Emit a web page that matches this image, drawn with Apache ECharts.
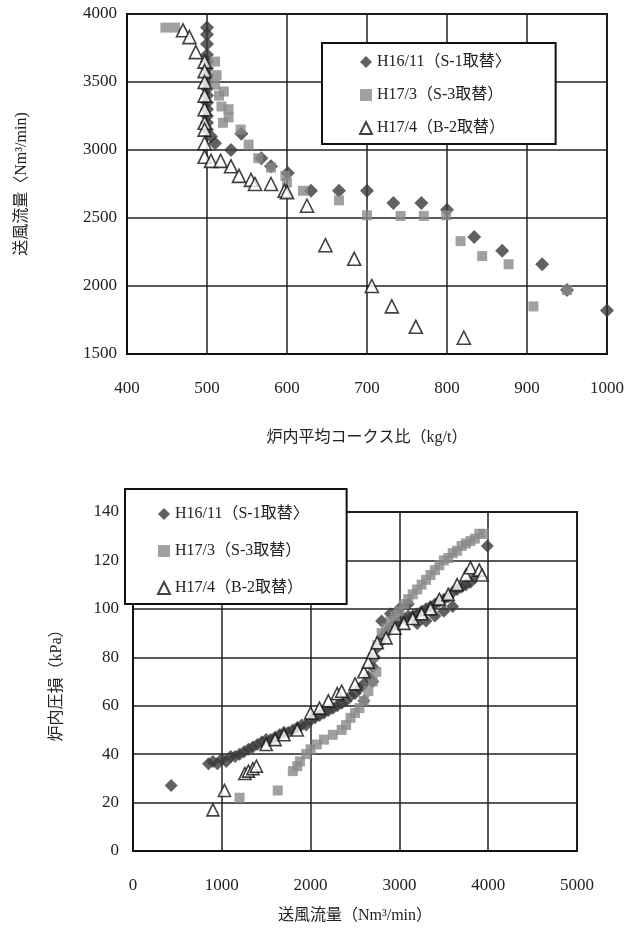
<!DOCTYPE html>
<html lang="ja">
<head>
    <meta charset="UTF-8">
    <title>送風流量</title>
    <script src="https://cdn.jsdelivr.net/npm/echarts@6/dist/echarts.min.js"></script>
    <style>
        body{margin:0;background:#fff;}
    </style>
</head>
<body>
<div id="chart" style="width:627px;height:936px;"></div>
<script>
    // 上の図: 炉内平均コークス比 vs 送風流量
    var cokeS1 = [[500,3900],[500,3850],[500,3780],[500,3700],[500,3650],[500,3600],[500,3550],[500,3500],[500,3450],
        [500,3400],[500,3350],[500,3300],[500,3250],[500,3200],[500,3150],[505,3100],[510,3050],[543,3120],[530,3000],
        [568,2940],[580,2880],[601,2830],[630,2700],[665,2700],[700,2700],[733,2610],[768,2610],[800,2560],[834,2360],
        [869,2260],[919,2160],[950,1970],[1000,1820]];
    var cokeS3 = [[448,3900],[460,3900],[510,3650],[512,3550],[510,3480],[515,3400],[521,3430],[518,3320],[527,3300],
        [527,3240],[520,3200],[542,3150],[552,3040],[564,2940],[580,2870],[598,2810],[600,2760],[620,2700],[665,2630],
        [700,2520],[742,2515],[771,2515],[799,2520],[817,2330],[844,2220],[877,2160],[908,1850],[950,1970]];
    var cokeB2 = [[470,3880],[478,3830],[486,3720],[497,3650],[497,3580],[497,3500],[497,3400],[497,3300],[497,3200],
        [497,3150],[497,3050],[497,2950],[505,2920],[517,2920],[530,2880],[540,2810],[555,2780],[560,2750],[580,2750],
        [597,2700],[600,2690],[625,2590],[648,2300],[684,2200],[706,2000],[731,1850],[761,1700],[821,1620]];

    // 下の図: 送風流量 vs 炉内圧損
    var flowS1 = [[430,27],[850,36],[900,37],[950,36],[1000,38],[1050,37],[1100,39],[1150,39],[1200,40],[1250,41],
        [1300,42],[1350,43],[1400,44],[1450,45],[1500,46],[1550,46],[1600,47],[1650,48],[1700,49],[1750,49],[1800,50],
        [1850,51],[1900,52],[1950,52],[2000,54],[2050,55],[2100,56],[2150,57],[2200,58],[2250,59],[2300,60],[2350,61],
        [2400,62],[2450,64],[2500,65],[2550,67],[2600,69],[2600,62],[2650,72],[2700,76],[2700,70],[2720,80],[2750,84],
        [2780,86],[2800,88],[2800,95],[2850,90],[2900,92],[2900,98],[2950,94],[3000,95],[3000,100],[3050,96],[3100,97],
        [3100,102],[3150,97],[3200,98],[3200,94],[3250,99],[3300,100],[3300,95],[3350,101],[3400,102],[3400,97],
        [3450,103],[3500,104],[3500,99],[3550,105],[3600,107],[3600,101],[3650,108],[3700,109],[3750,110],[3800,111],
        [3850,113],[3990,126]];
    var flowS3 = [[1200,22],[1630,25],[1800,33],[1850,35],[1880,37],[1950,40],[2000,42],[2070,44],[2150,46],[2250,48],
        [2350,50],[2400,52],[2450,55],[2500,57],[2550,59],[2600,62],[2650,66],[2700,70],[2740,74],[2700,80],[2750,85],
        [2800,90],[2850,92],[2900,95],[2950,97],[3000,99],[3050,102],[3100,104],[3150,106],[3200,108],[3250,110],
        [3300,112],[3350,114],[3400,116],[3450,118],[3500,120],[3550,121],[3600,123],[3650,124],[3700,126],[3750,127],
        [3800,128],[3850,129],[3900,131],[3950,131]];
    var flowB2 = [[900,17],[1030,25],[1260,32],[1300,33],[1350,34],[1390,35],[1500,44],[1600,46],[1700,48],[1850,50],
        [2000,57],[2100,59],[2200,62],[2300,65],[2350,66],[2500,69],[2600,74],[2650,78],[2700,82],[2750,86],[2850,88],
        [2950,92],[3050,94],[3150,96],[3250,98],[3350,100],[3450,104],[3550,106],[3650,110],[3750,114],[3800,117],
        [3900,116],[3930,114]];

    var names = ['H16/11（S-1取替〉', 'H17/3（S-3取替）', 'H17/4（B-2取替）'];

    var font = "'Liberation Serif', 'DejaVu Serif', 'Noto Sans CJK JP', serif";
    var txt = {fontFamily: font, fontSize: 16, color: '#222'};

    function axis(gridIndex, min, max, interval, margin, name, nameGap) {
        return {
            type: 'value', gridIndex: gridIndex, min: min, max: max, interval: interval,
            name: name, nameLocation: 'middle', nameGap: nameGap,
            nameTextStyle: {fontFamily: font, fontSize: 16, color: '#222'},
            axisLine: {show: true, lineStyle: {color: '#111', width: 2}},
            axisTick: {show: false},
            axisLabel: {margin: margin, fontFamily: font, fontSize: 17, color: '#222',
                formatter: function (v) { return String(v); }},
            splitLine: {show: true, lineStyle: {color: '#222', width: 1.5}}
        };
    }

    function scatter(name, data, idx, kind, small) {
        var s = {name: name, type: 'scatter', data: data, xAxisIndex: idx, yAxisIndex: idx};
        if (kind == 0) {
            s.symbol = 'diamond'; s.symbolSize = small ? 13 : 14;
            s.itemStyle = {color: '#3a3a3a'};
        } else if (kind == 1) {
            s.symbol = 'rect'; s.symbolSize = 10;
            s.itemStyle = {color: '#8a8a8a'};
        } else {
            s.symbol = 'triangle'; s.symbolSize = small ? 12 : 13;
            s.itemStyle = {color: '#fff', borderColor: '#111', borderWidth: 1.6};
        }
        return s;
    }

    function legend(left, top, padding, gap) {
        return {
            left: left, top: top, orient: 'vertical', padding: padding, itemGap: gap,
            itemWidth: 12, itemHeight: 12,
            backgroundColor: '#fff', borderColor: '#111', borderWidth: 2,
            textStyle: txt, data: names, selectedMode: false, z: 10
        };
    }

    var mychart = echarts.init(document.getElementById('chart'));
    var option = {
        animation: false,
        backgroundColor: '#fff',
        legend: [
            legend(322, 43, [11, 45, 8, 37], 17),
            legend(125, 489, [17, 38, 8, 32], 21)
        ],
        grid: [
            {left: 127, top: 14, width: 480, height: 340, show: true, borderColor: '#111', borderWidth: 2},
            {left: 133, top: 512, width: 444, height: 339, show: true, borderColor: '#111', borderWidth: 2}
        ],
        xAxis: [
            axis(0, 400, 1000, 100, 26, '炉内平均コークス比（kg/t）', 76),
            axis(1, 0, 5000, 1000, 26, '送風流量（Nm³/min）', 57)
        ],
        yAxis: [
            axis(0, 1500, 4000, 500, 10, '送風流量〈Nm³/min)', 97),
            axis(1, 0, 140, 20, 14, '炉内圧損（kPa）', 68)
        ],
        series: [
            scatter(names[0], cokeS1, 0, 0),
            scatter(names[1], cokeS3, 0, 1),
            scatter(names[2], cokeB2, 0, 2),
            scatter(names[0], flowS1, 1, 0, true),
            scatter(names[1], flowS3, 1, 1, true),
            scatter(names[2], flowB2, 1, 2, true)
        ]
    };
    mychart.setOption(option);
</script>
</body>
</html>
